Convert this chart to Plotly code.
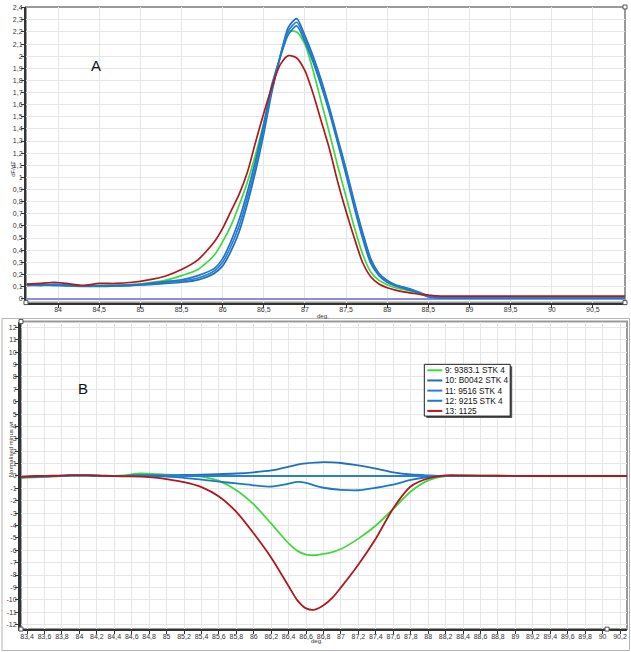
import plotly.graph_objects as go

W, H = 631, 652

# ---------------- data ----------------
names = ["9: 9383.1 STK 4", "10: B0042 STK 4", "11: 9516 STK 4", "12: 9215 STK 4", "13: 1125"]
colors = ["#3fd83f", "#1f6fbf", "#2a80d0", "#1c78c8", "#b0181c"]

# Panel A: melt curve derivative dF/dT
temp_a = [83.62, 83.8, 83.95, 84.1, 84.3, 84.5, 84.7, 84.9, 85.1, 85.3,
          85.5, 85.7, 85.9, 86.0, 86.1, 86.2, 86.3, 86.4, 86.5, 86.6,
          86.7, 86.8, 86.9, 87.0, 87.1, 87.2, 87.3, 87.4, 87.5, 87.6,
          87.7, 87.8, 87.9, 88.0, 88.1, 88.2, 88.3, 88.4, 88.5, 88.6,
          88.8, 89.0, 89.5, 90.0, 90.5, 90.89]
dfdt_9 = [0.115, 0.11, 0.11, 0.11, 0.105, 0.11, 0.11, 0.115, 0.13, 0.15,
          0.19, 0.24, 0.36, 0.47, 0.60, 0.77, 0.96, 1.19, 1.45, 1.72,
          2.0, 2.2, 2.2, 2.1, 1.88, 1.62, 1.36, 1.09, 0.84, 0.59,
          0.37, 0.22, 0.15, 0.115, 0.09, 0.075, 0.06, 0.045, 0.025, 0.015,
          0.012, 0.012, 0.012, 0.012, 0.012, 0.012]
dfdt_10 = [0.11, 0.11, 0.115, 0.11, 0.105, 0.10, 0.105, 0.11, 0.115, 0.125,
           0.135, 0.155, 0.21, 0.27, 0.39, 0.55, 0.78, 1.05, 1.36, 1.71,
           2.0, 2.24, 2.31, 2.17, 2.0, 1.80, 1.57, 1.32, 1.07, 0.80,
           0.55, 0.33, 0.21, 0.15, 0.115, 0.095, 0.075, 0.05, 0.02, 0.01,
           0.005, 0.005, 0.003, 0.003, 0.003, 0.003]
dfdt_11 = [0.115, 0.11, 0.12, 0.115, 0.105, 0.105, 0.11, 0.115, 0.12, 0.135,
           0.145, 0.17, 0.23, 0.30, 0.43, 0.60, 0.83, 1.09, 1.40, 1.74,
           2.0, 2.21, 2.28, 2.15, 1.97, 1.77, 1.55, 1.30, 1.05, 0.78,
           0.52, 0.31, 0.20, 0.14, 0.11, 0.09, 0.07, 0.045, 0.02, 0.01,
           0.008, 0.006, 0.005, 0.005, 0.005, 0.005]
dfdt_12 = [0.11, 0.115, 0.11, 0.105, 0.10, 0.105, 0.105, 0.11, 0.125, 0.14,
           0.155, 0.19, 0.25, 0.33, 0.47, 0.65, 0.88, 1.14, 1.44, 1.77,
           1.99, 2.18, 2.25, 2.12, 1.95, 1.75, 1.53, 1.28, 1.02, 0.75,
           0.50, 0.29, 0.19, 0.135, 0.105, 0.085, 0.065, 0.04, 0.015, 0.008,
           0.005, 0.004, 0.003, 0.003, 0.003, 0.003]
dfdt_13 = [0.12, 0.125, 0.135, 0.125, 0.11, 0.125, 0.125, 0.135, 0.155, 0.185,
           0.24, 0.32, 0.47, 0.58, 0.72, 0.86, 1.04, 1.29, 1.53, 1.75,
           1.93, 2.005, 1.985, 1.88, 1.69, 1.46, 1.23, 0.96, 0.72, 0.50,
           0.30, 0.18, 0.12, 0.09, 0.07, 0.055, 0.045, 0.035, 0.03, 0.022,
           0.02, 0.02, 0.02, 0.02, 0.02, 0.02]

# Panel B: normalised minus wild type
temp_b = [83.33, 83.5, 83.7, 83.9, 84.1, 84.3, 84.5, 84.7, 84.9, 85.0,
          85.2, 85.4, 85.6, 85.8, 86.0, 86.2, 86.4, 86.5, 86.6, 86.7,
          86.8, 86.9, 87.0, 87.2, 87.4, 87.6, 87.8, 88.0, 88.2, 88.4,
          88.8, 89.2, 89.6, 90.0, 90.28]
diff_9 = [-0.15, -0.1, -0.05, 0.05, 0.05, 0.0, 0.05, 0.2, 0.15, 0.1,
          0.05, -0.05, -0.4, -1.15, -2.3, -3.85, -5.45, -6.05, -6.35, -6.4,
          -6.3, -6.15, -5.9, -5.06, -4.0, -2.65, -1.25, -0.35, 0.0, 0.05,
          0.02, 0.0, 0.0, 0.0, 0.0]
diff_10 = [-0.1, -0.05, 0.0, 0.05, 0.05, 0.0, 0.0, 0.05, 0.05, 0.05,
           0.08, 0.1, 0.15, 0.2, 0.3, 0.45, 0.75, 0.92, 1.02, 1.08,
           1.12, 1.1, 1.05, 0.85, 0.6, 0.3, 0.12, 0.05, 0.0, 0.0,
           0.0, 0.0, 0.0, 0.0, 0.0]
diff_11 = [-0.1, -0.05, 0.0, 0.05, 0.05, 0.0, 0.0, 0.05, 0.05, 0.02,
           0.0, 0.0, 0.0, 0.0, 0.0, 0.0, 0.0, 0.0, 0.0, 0.0,
           0.0, 0.0, 0.0, 0.0, 0.0, 0.0, 0.0, 0.0, 0.0, 0.0,
           0.0, 0.0, 0.0, 0.0, 0.0]
diff_12 = [-0.1, -0.05, 0.0, 0.05, 0.05, 0.0, 0.0, 0.05, 0.0, -0.05,
           -0.15, -0.3, -0.45, -0.6, -0.75, -0.85, -0.62, -0.47, -0.55, -0.78,
           -0.95, -1.05, -1.12, -1.15, -0.95, -0.7, -0.32, -0.08, 0.0, 0.0,
           0.0, 0.0, 0.0, 0.0, 0.0]
diff_13 = [-0.05, 0.0, 0.02, 0.05, 0.05, 0.02, -0.03, -0.05, -0.15, -0.25,
           -0.5, -0.9, -1.65, -2.9, -4.65, -6.6, -8.9, -10.05, -10.7, -10.8,
           -10.45, -9.85, -9.0, -7.15, -5.05, -2.6, -0.85, -0.2, 0.05, 0.05,
           0.02, 0.0, 0.0, 0.0, 0.0]

b_yticks = list(range(-12, 13))
b_yticklabels = [str(v) for v in b_yticks]

series_a = [dfdt_9, dfdt_10, dfdt_11, dfdt_12, dfdt_13]
series_b = [diff_9, diff_10, diff_11, diff_12, diff_13]

# ---------------- layout helpers (pixel -> paper) ----------------
def px(x):
    return x / W

def py(y):
    return 1 - y / H

FONT = "Liberation Sans, Arial, sans-serif"
fig = go.Figure()

for n, c, v in zip(names, colors, series_a):
    fig.add_trace(go.Scatter(x=temp_a, y=v, mode="lines", name=n,
                             line=dict(color=c, width=1.7, shape="spline", smoothing=0.7),
                             xaxis="x", yaxis="y", showlegend=False))
for n, c, v in zip(names, colors, series_b):
    fig.add_trace(go.Scatter(x=temp_b, y=v, mode="lines", name=n,
                             line=dict(color=c, width=1.8, shape="spline", smoothing=0.7),
                             xaxis="x2", yaxis="y2", showlegend=False))

tickfont = dict(family=FONT, size=7, color="#333")
grid = "#e6e6e6"

shapes = []
# plot-area frames (light grey top/right)
for x0, x1, y0, y1 in ((25, 625, 4, 301), (20, 627, 320, 629)):
    shapes.append(dict(type="rect", xref="paper", yref="paper",
                       x0=px(x0), x1=px(x1), y0=py(y1), y1=py(y0),
                       line=dict(color="#9a9a9a", width=2), layer="below"))
# outer frame of lower panel
shapes.append(dict(type="rect", xref="paper", yref="paper", x0=px(1), x1=px(629.5),
                   y0=py(650.5), y1=py(317), line=dict(color="#b4b4b4", width=1), layer="below"))
# small corner squares
for (cx, cy) in [(625, 4), (25, 301), (625, 301), (20, 320), (20, 629), (607, 629)]:
    shapes.append(dict(type="rect", xref="paper", yref="paper",
                       x0=px(cx - 2), x1=px(cx + 2), y0=py(cy + 2), y1=py(cy - 2),
                       line=dict(color="#555", width=1), fillcolor="white", layer="above"))

# custom compact legend
lx0, lx1, ly0, ly1 = 424, 510, 363, 415
shapes.append(dict(type="rect", xref="paper", yref="paper", x0=px(lx0 + 2), x1=px(lx1 + 2),
                   y0=py(ly1 + 2), y1=py(ly0 + 2), line=dict(width=0), fillcolor="#555",
                   layer="above"))
shapes.append(dict(type="rect", xref="paper", yref="paper", x0=px(lx0), x1=px(lx1),
                   y0=py(ly1), y1=py(ly0), line=dict(color="#222", width=1), fillcolor="white",
                   layer="above"))
annotations = []
for i, (n, c) in enumerate(zip(names, colors)):
    yc = 369 + i * 10.2
    shapes.append(dict(type="line", xref="paper", yref="paper", x0=px(427), x1=px(442),
                       y0=py(yc), y1=py(yc), line=dict(color=c, width=2), layer="above"))
    annotations.append(dict(text=n, xref="paper", yref="paper", x=px(442.5), y=py(yc),
                            xanchor="left", yanchor="middle", showarrow=False,
                            font=dict(family=FONT, size=8.3, color="#111")))

annotations += [
    dict(text="A", xref="paper", yref="paper", x=px(88), y=py(52), showarrow=False,
         font=dict(family=FONT, size=15, color="#111")),
    dict(text="B", xref="paper", yref="paper", x=px(75), y=py(387), showarrow=False,
         font=dict(family=FONT, size=15, color="#111")),
    dict(text="dF/dT", xref="paper", yref="paper", x=px(7.5), y=py(156), textangle=-90,
         showarrow=False, font=dict(family=FONT, size=6, color="#333")),
    dict(text="Normalised minus wt", xref="paper", yref="paper", x=px(4.5), y=py(478),
         textangle=-90, showarrow=False, font=dict(family=FONT, size=6, color="#333")),
    dict(text="deg.", xref="paper", yref="paper", x=px(323), y=py(314), showarrow=False,
         font=dict(family=FONT, size=6, color="#333")),
    dict(text="deg.", xref="paper", yref="paper", x=px(317), y=py(646), showarrow=False,
         font=dict(family=FONT, size=6, color="#333")),
]

axis_common = dict(showgrid=True, gridcolor=grid, gridwidth=1, zeroline=False,
                   showline=True, linecolor="#333", ticks="outside", ticklen=3,
                   tickcolor="#333", tickfont=tickfont)

fig.update_layout(
    width=W, height=H, margin=dict(l=0, r=0, t=0, b=0, pad=0),
    paper_bgcolor="white", plot_bgcolor="white",
    separators=", ", font=dict(family=FONT, size=7, color="#333"),
    showlegend=False,
    xaxis=dict(domain=[px(25), px(625)], range=[83.61, 90.89], anchor="y",
               tick0=84, dtick=0.5, linewidth=2, ticklabelstandoff=-4, **axis_common),
    yaxis=dict(domain=[py(301), py(4)], range=[-0.033, 2.406], anchor="x",
               tick0=0, dtick=0.1, linewidth=2, ticklabelstandoff=-3, **axis_common),
    xaxis2=dict(domain=[px(20), px(627)], range=[83.33, 90.28], anchor="y2",
                tick0=83.4, dtick=0.2, linewidth=2, ticklabelstandoff=-4, **axis_common),
    yaxis2=dict(domain=[py(629), py(320)], range=[-12.37, 12.48], anchor="x2",
                tickmode="array", tickvals=b_yticks, ticktext=b_yticklabels,
                linewidth=3, ticklabelstandoff=-3, **axis_common),
    shapes=shapes, annotations=annotations,
)
fig.update_yaxes(selector=dict(anchor="x"), zeroline=True, zerolinecolor="#8c8ce0",
                 zerolinewidth=1.5)

fig.write_html("out.html", config={"displayModeBar": False},
               post_script="document.body.style.margin='0';document.body.style.padding='0';"
                           "document.body.style.overflow='hidden';")
